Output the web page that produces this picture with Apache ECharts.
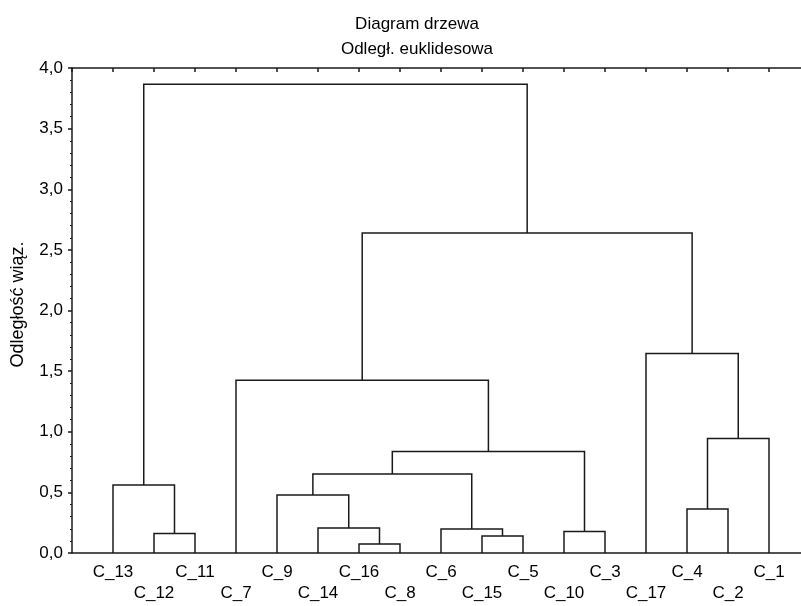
<!DOCTYPE html>
<html>
<head>
<meta charset="utf-8">
<script src="https://cdn.jsdelivr.net/npm/echarts@6/dist/echarts.min.js"></script>
<style>
html,body{margin:0;padding:0;background:#fff;overflow:hidden;}
#chart{width:801px;height:606px;}
</style>
</head>
<body>
<div id="chart"></div>
<script>
// Leaf order along the x axis (left to right)
const leaves = ['C_13','C_12','C_11','C_7','C_9','C_14','C_16','C_8','C_6','C_15','C_5','C_10','C_3','C_17','C_4','C_2','C_1'];
// Merges: [left member, right member, linkage distance]; members are leaf names or 'm<index>'
const mergeLeft  = ['C_12','C_13','C_16','C_14','C_9','C_15','C_6','m4','C_10','m7','C_7','C_4','m11','C_17','m10','m1'];
const mergeRight = ['C_11','m0','C_8','m2','m3','C_5','m5','m6','C_3','m8','m9','C_2','C_1','m12','m13','m14'];
const mergeHeight = [0.16,0.56,0.074,0.206,0.478,0.14,0.198,0.652,0.178,0.837,1.425,0.362,0.945,1.645,2.64,3.865];
const yTicks = ['0,0','0,5','1,0','1,5','2,0','2,5','3,0','3,5','4,0'];

const titleText = 'Diagram drzewa\nOdległ. euklidesowa';
const yName = 'Odległość wiąz.';

// Resolve node positions
const nodeX = {}, nodeY = {};
leaves.forEach((n,i)=>{ nodeX[n]=i+1; nodeY[n]=0; });
const linkData = [];
mergeHeight.forEach((h,i)=>{
  const a = mergeLeft[i], b = mergeRight[i];
  linkData.push({coords:[[nodeX[a],nodeY[a]],[nodeX[a],h],[nodeX[b],h],[nodeX[b],nodeY[b]]]});
  nodeX['m'+i] = (nodeX[a]+nodeX[b])/2;
  nodeY['m'+i] = h;
});

const FONT = "'Liberation Sans', Arial, sans-serif";
const LINE = '#1a1a1a';
const chart = echarts.init(document.getElementById('chart'), null, {renderer:'canvas'});
chart.setOption({
  animation:false,
  backgroundColor:'#fff',
  title:{
    text:titleText,
    left:412, top:7, textAlign:'center',
    textStyle:{fontFamily:FONT,fontSize:17,fontWeight:'normal',color:'#000',lineHeight:25}
  },
  grid:{left:72, width:738, top:68, height:485, containLabel:false, outerBoundsMode:'none'},
  xAxis:[{
    type:'value', position:'bottom', min:0, max:leaves.length+1, interval:1,
    axisLine:{show:true,lineStyle:{color:LINE,width:1.5}},
    axisTick:{show:false},
    splitLine:{show:false},
    axisLabel:{
      show:true, margin:9, lineHeight:21,
      fontFamily:FONT, fontSize:17, color:'#000',
      formatter:function(v){
        const i = Math.round(v);
        if(i<1||i>leaves.length) return '';
        return (i%2===1) ? leaves[i-1] : '\n'+leaves[i-1];
      }
    }
  },{
    type:'value', position:'top', min:0, max:leaves.length+1, interval:1,
    axisLine:{show:true,lineStyle:{color:LINE,width:1.5}},
    axisTick:{show:true,inside:true,length:4,lineStyle:{color:LINE,width:1.5}},
    axisLabel:{show:false},
    splitLine:{show:false}
  }],
  yAxis:{
    type:'value', min:0, max:4, interval:0.5,
    name:yName, nameLocation:'middle', nameGap:45,
    nameTextStyle:{fontFamily:FONT,fontSize:18,color:'#000',padding:[0,0,0,12]},
    axisLine:{show:true,lineStyle:{color:LINE,width:1.5}},
    axisTick:{show:true,length:4,lineStyle:{color:LINE,width:1.5}},
    minorTick:{show:true,splitNumber:5,length:2,lineStyle:{color:LINE,width:1}},
    splitLine:{show:false},
    axisLabel:{
      margin:9, fontFamily:FONT, fontSize:17, color:'#000',
      formatter:function(v){ return yTicks[Math.round(v/0.5)]; }
    }
  },
  series:[{
    type:'lines', coordinateSystem:'cartesian2d', polyline:true,
    xAxisIndex:0, yAxisIndex:0, silent:true,
    lineStyle:{color:LINE,width:1.5,opacity:1},
    data:linkData
  }]
});
</script>
</body>
</html>
